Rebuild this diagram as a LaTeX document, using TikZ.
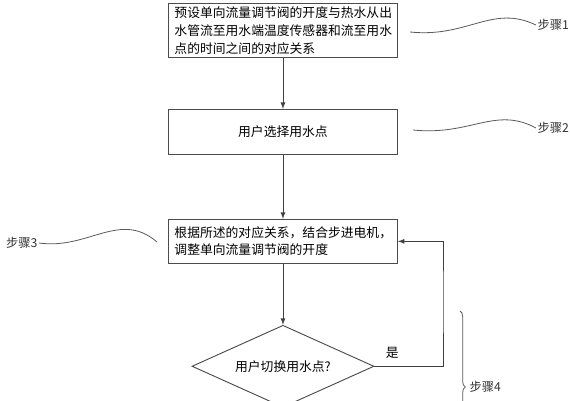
\documentclass[tikz,border=0pt]{standalone}
\usepackage{fontspec}
\newfontfamily\cjk{Noto Sans CJK SC}
\usetikzlibrary{positioning,shapes.geometric,decorations.pathreplacing}

\begin{document}
\begin{tikzpicture}[
		x=0.75pt, y=-0.75pt,
		block/.style={rectangle, draw=black!70, line width=0.7pt, font=\cjk\fontsize{9.6}{13.5}\selectfont, text width=162.75pt, inner xsep=4.5pt, inner ysep=1pt, minimum width=171.75pt, align=left},
		decision/.style={diamond, draw=black!70, line width=0.7pt, font=\cjk\fontsize{9.6}{12}\selectfont, minimum width=136.5pt, minimum height=61.5pt, inner sep=0pt, aspect=2.2},
		steplabel/.style={font=\cjk\fontsize{9.2}{11}\selectfont, inner sep=1pt, text=black!80},
		wave/.style={draw=black!65, line width=0.6pt},
		flow/.style={draw=black!75, line width=0.7pt, -latex},
		]
		\useasboundingbox (0,0) rectangle (570,400);

		%Main Nodes
		\node[block, anchor=north west, minimum height=40.5pt]	(preset) at (168,3)	{预设单向流量调节阀的开度与热水从出\\水管流至用水端温度传感器和流至用水\\点的时间之间的对应关系};
		\node[block, align=center, minimum height=33.75pt]	(select)	[below=38.25pt of preset]	{用户选择用水点};
		\node[block, minimum height=33pt, font=\cjk\fontsize{9.6}{12.75}\selectfont]	(adjust)	[below=48pt of select]	{根据所述的对应关系，结合步进电机，\\调整单向流量调节阀的开度};
		\node[decision]	(switch)	[below=45.75pt of adjust]	{用户切换用水点?};

		%Main Lines
		\draw[flow]	(preset.south)	--	(select.north);
		\draw[flow]	(select.south)	--	(adjust.north);
		\draw[flow]	(adjust.south)	--	(switch.north);
		\coordinate (loop) at (443,300);
		\draw[flow]	(switch.east)	-| node[pos=0.13, above=2pt, font=\cjk\fontsize{9.6}{12}\selectfont] {是} (loop) |- (adjust.east);

		%Steps
		\node[steplabel, anchor=west]	(step1) at (536,25)	{步骤1};
		\coordinate (w1) at (410,32);
		\draw[wave]	(w1) .. controls (468,38) and (492,4) .. (step1.west);

		\node[steplabel, anchor=west]	(step2) at (536,128)	{步骤2};
		\coordinate (w2) at (413,130);
		\draw[wave]	(w2) .. controls (471,136) and (495,106) .. (step2.west);

		\node[steplabel, anchor=east]	(step3) at (39,243)	{步骤3};
		\coordinate (w3) at (157,242);
		\draw[wave]	(step3.east) .. controls (88,250) and (120,210) .. (w3);

		\node[steplabel, anchor=west]	(step4) at (468,387)	{步骤4};
		\coordinate (b1) at (460,311);
		\coordinate (b2) at (460,463);
		\draw[wave, decorate, decoration={brace, amplitude=4pt}]	(b1) -- (b2);

	\end{tikzpicture}
\end{document}
